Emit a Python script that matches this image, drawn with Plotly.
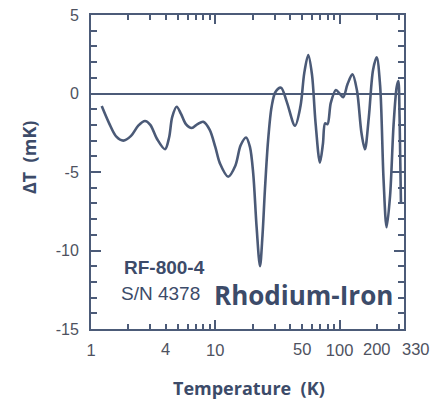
import numpy as np
import plotly.graph_objects as go

# Temperature (K) and deviation dT (mK)
T = [1.22, 1.4, 1.6, 1.82, 2.1, 2.4, 2.72, 3.0, 3.4, 3.94, 4.25, 4.5, 4.89, 5.3, 5.8,
     6.46, 7.2, 8.0, 9.0, 10.0, 10.9, 12.7, 14.5, 16.0, 17.7, 19.0, 20.2, 21.5, 22.9,
     24.0, 25.1, 26.6, 28.4, 30.5, 33.8, 37.5, 43.8, 48.5, 52.0, 56.0, 60.0, 64.0,
     69.5, 73.5, 76.5, 80.0, 85.0, 93.5, 100.0, 107.0, 116.0, 127.0, 138.0, 150.0,
     160.0, 172.0, 186.0, 199.0, 212.0, 226.0, 239.0, 255.0, 272.0, 288.0, 297.0,
     304.0, 312.0]
DT = [-0.80, -1.9, -2.75, -3.0, -2.7, -2.05, -1.75, -2.0, -2.9, -3.55, -2.8, -1.5, -0.84,
      -1.3, -1.95, -2.2, -1.95, -1.8, -2.3, -3.4, -4.45, -5.3, -4.6, -3.3, -2.8, -3.4,
      -5.1, -8.5, -11.0, -9.0, -6.1, -3.0, -0.84, 0.1, 0.37, -0.5, -2.05, -0.8, 1.3,
      2.45, 1.2, -1.8, -4.4, -3.2, -1.9, -1.95, -0.6, 0.22, 0.0, -0.24, 0.6, 1.22, 0.2,
      -2.5, -3.55, -1.5, 1.5, 2.3, 0.5, -5.5, -8.52, -6.5, -2.0, 0.4, 0.8, -1.5, -7.0]

# small horizontal stroke near the right edge
EDGE_T = [264, 306]
EDGE_V = [-5, -5]

X_DECADES = [1, 10, 100]
X_DECADE_LABELS = ["1", "10", "100"]
X_EXTRA = [4, 50, 200]
X_EXTRA_LABELS = ["4", "50", "200"]
X_LAST = "330"
X_MINOR = [2, 3, 4, 5, 6, 7, 8, 9, 20, 30, 40, 50, 60, 70, 80, 90, 200, 300]
Y_TICKS = [-15, -10, -5, 0, 5]
Y_LABELS = ["-15", "-10", "-5", "0", "5"]

LINE_C = "#4b5a77"
AX_C = "#4c5b78"
TXT_C = "#3c4b69"
TICK_C = "#4e5260"
XR = [0, np.log10(330)]

# page body has an 8px margin -> compensate
OFF = 8
W, H = 438 - OFF, 402 - OFF
ML, MR, MT, MB = 91 - OFF, 34, 15 - OFF, 73
PW, PH = W - ML - MR, H - MT - MB


def px_x(px):
    return (px - OFF - ML) / PW


def px_y(py):
    return (H - MB - (py - OFF)) / PH


fig = go.Figure()
fig.add_trace(go.Scatter(x=T, y=DT, mode="lines", showlegend=False, hoverinfo="skip",
                         line=dict(color=LINE_C, width=2.6, shape="spline", smoothing=0.9)))
fig.add_trace(go.Scatter(x=EDGE_T, y=EDGE_V, mode="lines", showlegend=False,
                         hoverinfo="skip", line=dict(color=LINE_C, width=2)))

fig.update_layout(
    width=W, height=H,
    margin=dict(l=ML, r=MR, t=MT, b=MB, autoexpand=False),
    paper_bgcolor="white", plot_bgcolor="white",
    font=dict(family="Liberation Sans, Arial, sans-serif", color=TICK_C),
    xaxis=dict(type="log", range=XR, tickmode="array", tickvals=X_DECADES,
               ticktext=X_DECADE_LABELS, ticks="inside", ticklen=9, tickwidth=1.6,
               tickcolor=AX_C, showgrid=False, zeroline=False, showline=True,
               linecolor=AX_C, linewidth=2, mirror="allticks",
               tickfont=dict(size=16.5, color=TICK_C), ticklabelstandoff=5,
               automargin=False, ticklabeloverflow="allow",
               minor=dict(tickmode="array", tickvals=X_MINOR, ticks="inside", ticklen=5,
                          tickwidth=1.6, tickcolor=AX_C, showgrid=False)),
    yaxis=dict(range=[-15, 5], tickmode="array", tickvals=Y_TICKS, ticktext=Y_LABELS,
               ticks="inside", ticklen=10, tickwidth=1.6, tickcolor=AX_C,
               showgrid=False, zeroline=True, zerolinecolor=AX_C, zerolinewidth=1.8,
               showline=True, linecolor=AX_C, linewidth=2, mirror="allticks",
               tickfont=dict(size=16, color=TICK_C), ticklabelstandoff=7, automargin=False,
               ticklabeloverflow="allow",
               minor=dict(dtick=1, ticks="inside", ticklen=6, tickwidth=1.6,
                          tickcolor=AX_C, showgrid=False)),
)

ann = []
for v, lab in zip(X_EXTRA, X_EXTRA_LABELS):
    ann.append(dict(text=lab, xref="x", yref="paper", x=np.log10(v), y=px_y(349),
                    xanchor="center", yanchor="middle", showarrow=False,
                    font=dict(size=16.5, color=TICK_C)))
ann.append(dict(text=X_LAST, xref="paper", yref="paper", x=px_x(400), y=px_y(349),
                xanchor="left", yanchor="middle", showarrow=False,
                font=dict(size=16.5, color=TICK_C)))
ann.append(dict(text="<b>Temperature  (K)</b>", xref="paper", yref="paper",
                x=px_x(249), y=px_y(388), xanchor="center", yanchor="middle",
                showarrow=False, font=dict(family="Open Sans, sans-serif", size=18, color=TXT_C)))
ann.append(dict(text="ΔT  (mK)", xref="paper", yref="paper",
                x=px_x(29), y=px_y(158), xanchor="center", yanchor="middle",
                textangle=-90, showarrow=False,
                font=dict(family="Open Sans, sans-serif", size=18, color=TXT_C, weight="bold")))
ann.append(dict(text="<b>RF-800-4</b>", xref="paper", yref="paper",
                x=px_x(122), y=px_y(267), xanchor="left", yanchor="middle",
                showarrow=False, font=dict(family="Liberation Sans, Arial", size=19, color=TXT_C)))
ann.append(dict(text="S/N 4378", xref="paper", yref="paper",
                x=px_x(119), y=px_y(293), xanchor="left", yanchor="middle",
                showarrow=False, font=dict(family="Liberation Sans, Arial", size=19, color=TXT_C)))
ann.append(dict(text="<b>Rhodium-Iron</b>", xref="paper", yref="paper",
                x=px_x(212), y=px_y(295), xanchor="left", yanchor="middle",
                showarrow=False, font=dict(family="Open Sans, sans-serif", size=26, color=TXT_C)))
fig.update_layout(annotations=ann)

fig.write_html("out.html")
